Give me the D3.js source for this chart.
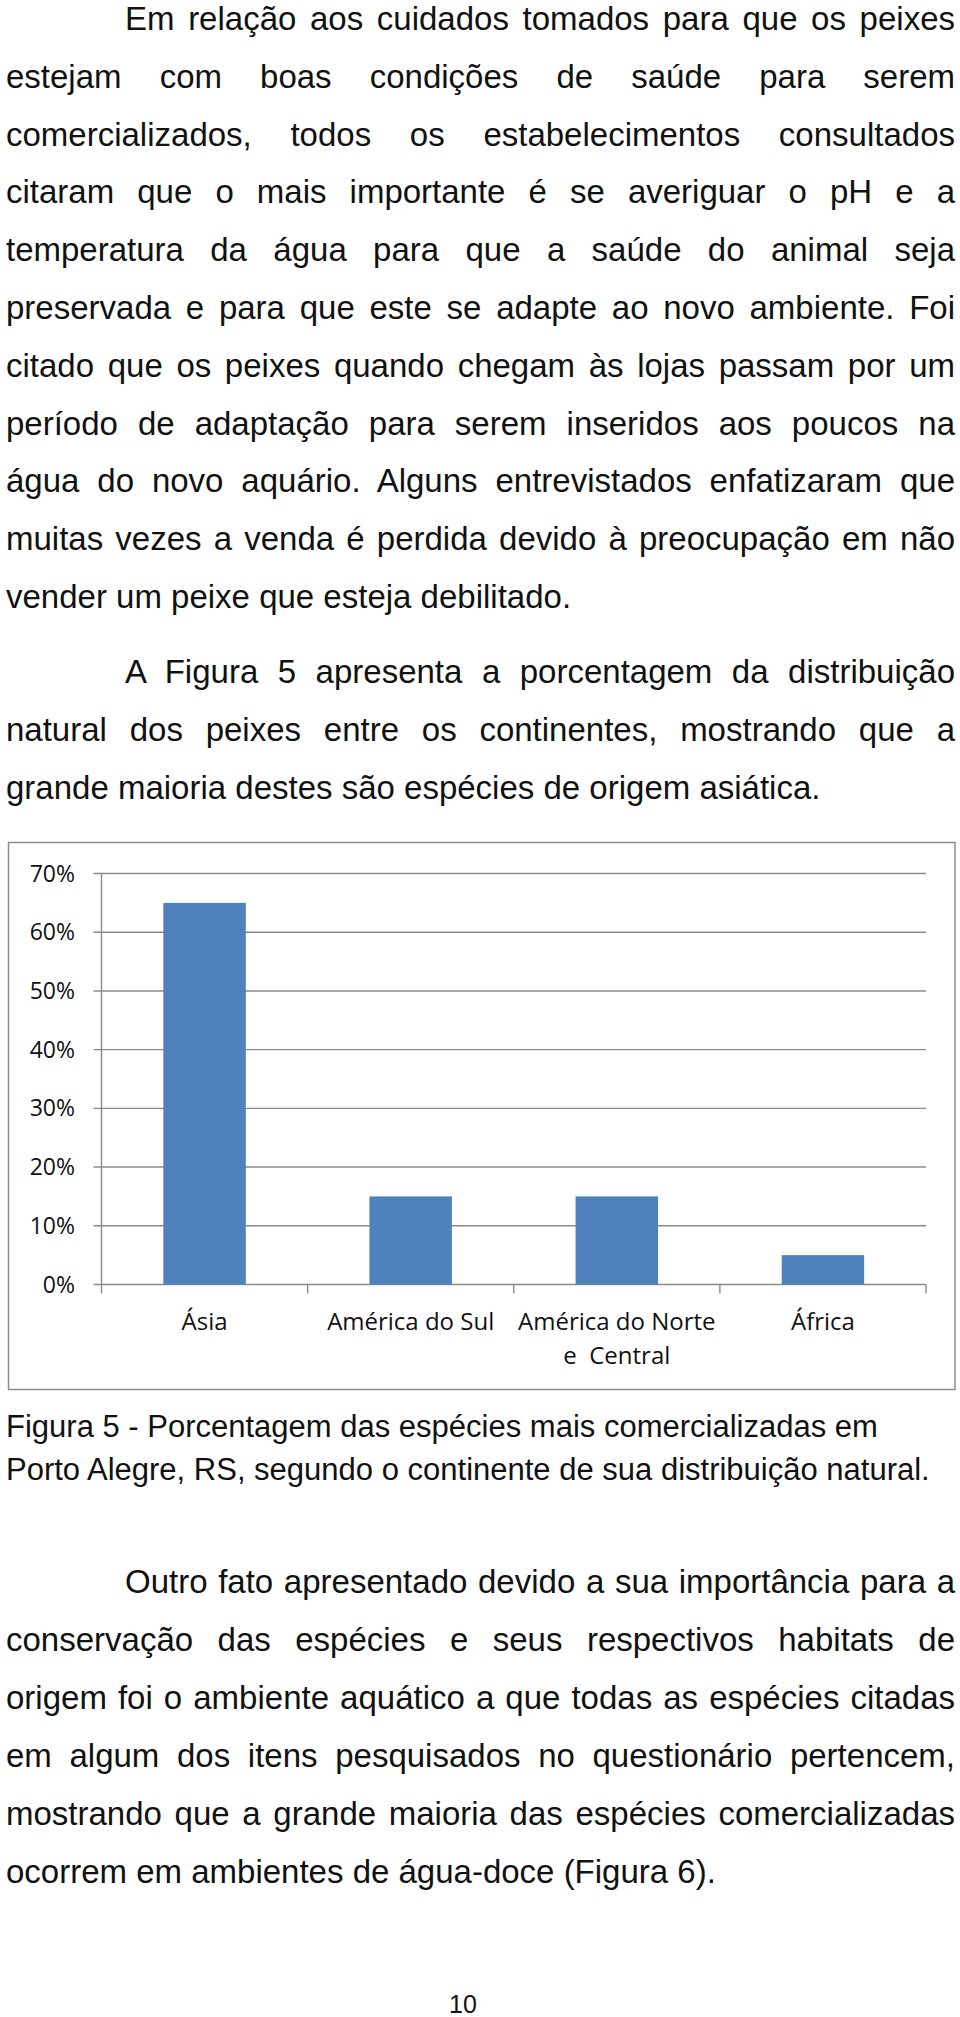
<!DOCTYPE html>
<html>
<head>
<meta charset="utf-8">
<script src="https://cdn.jsdelivr.net/npm/d3@7"></script>
<style>
  body { margin: 0; background: #fff; }
  svg { display: block; }
  .body-text { font-family: "Liberation Sans", Arial, sans-serif; fill: #111; }
  .chart-text { font-family: "Open Sans", sans-serif; fill: #111; }
</style>
</head>
<body>
<script>
// chart data
var categories = ["Ásia", "América do Sul", "América do Norte e  Central", "África"];
var percentages = [0.65, 0.15, 0.15, 0.05];
var yTickValues = [0, 0.1, 0.2, 0.3, 0.4, 0.5, 0.6, 0.7];

// page text, one entry per printed line
var para1 = [
  "Em relação aos cuidados tomados para que os peixes",
  "estejam com boas condições de saúde para serem",
  "comercializados, todos os estabelecimentos consultados",
  "citaram que o mais importante é se averiguar o pH e a",
  "temperatura da água para que a saúde do animal seja",
  "preservada e para que este se adapte ao novo ambiente. Foi",
  "citado que os peixes quando chegam às lojas passam por um",
  "período de adaptação para serem inseridos aos poucos na",
  "água do novo aquário. Alguns entrevistados enfatizaram que",
  "muitas vezes a venda é perdida devido à preocupação em não",
  "vender um peixe que esteja debilitado."
];
var para2 = [
  "A Figura 5 apresenta a porcentagem da distribuição",
  "natural dos peixes entre os continentes, mostrando que a",
  "grande maioria destes são espécies de origem asiática."
];
var captionLines = [
  "Figura 5 - Porcentagem das espécies mais comercializadas em",
  "Porto Alegre, RS, segundo o continente de sua distribuição natural."
];
var para3 = [
  "Outro fato apresentado devido a sua importância para a",
  "conservação das espécies e seus respectivos habitats de",
  "origem foi o ambiente aquático a que todas as espécies citadas",
  "em algum dos itens pesquisados no questionário pertencem,",
  "mostrando que a grande maioria das espécies comercializadas",
  "ocorrem em ambientes de água-doce (Figura 6)."
];
var pageNumber = "10";

var pageW = 960, pageH = 2017;
var textLeft = 6, textRight = 955, indent = 125;

var svg = d3.select("body").append("svg")
  .attr("width", pageW)
  .attr("height", pageH);

// draws a block of lines, justifying all but the last one
function drawParagraph(lines, firstBaseline, lineGap, fontSize, opts) {
  var g = svg.append("g").attr("class", "body-text");
  lines.forEach(function(line, i) {
    var x = (opts.indent && i === 0) ? indent : textLeft;
    var t = g.append("text")
      .attr("x", x)
      .attr("y", firstBaseline + i * lineGap)
      .attr("font-size", fontSize)
      .style("white-space", "pre")
      .text(line);
    if (opts.justify && i < lines.length - 1) {
      var target = textRight - x;
      var w = t.node().getComputedTextLength();
      var spaces = line.split(" ").length - 1;
      if (w > target) {
        t.attr("textLength", target).attr("lengthAdjust", "spacingAndGlyphs");
      } else if (spaces > 0) {
        t.style("word-spacing", ((target - w) / spaces) + "px");
      }
    }
  });
}

drawParagraph(para1, 30, 57.8, 33, {indent: true, justify: true});
drawParagraph(para2, 683, 58, 33, {indent: true, justify: true});
drawParagraph(captionLines, 1437, 43, 31, {indent: false, justify: false});
drawParagraph(para3, 1593, 58, 33, {indent: true, justify: true});

svg.append("text")
  .attr("class", "body-text")
  .attr("x", 463)
  .attr("y", 2013)
  .attr("text-anchor", "middle")
  .attr("font-size", 25)
  .text(pageNumber);

// ---- chart ----
var frame = {left: 8.5, top: 842.5, right: 955, bottom: 1389.5};
var plot = {left: 101.5, right: 926, top: 873.5, bottom: 1284.5};

svg.append("rect")
  .attr("x", frame.left)
  .attr("y", frame.top)
  .attr("width", frame.right - frame.left)
  .attr("height", frame.bottom - frame.top)
  .attr("fill", "#fff")
  .attr("stroke", "#8c8c8c")
  .attr("stroke-width", 1.5);

var x = d3.scaleBand()
  .domain(categories)
  .range([plot.left, plot.right])
  .padding(0);

var y = d3.scaleLinear()
  .domain([0, 0.7])
  .range([plot.bottom, plot.top]);

var chartGroup = svg.append("g");

// horizontal gridlines with outward ticks
chartGroup.append("g")
  .selectAll("line")
  .data(yTickValues)
  .enter()
  .append("line")
  .attr("x1", plot.left - 8)
  .attr("x2", plot.right)
  .attr("y1", d => y(d))
  .attr("y2", d => y(d))
  .attr("stroke", "#8a8a8a")
  .attr("stroke-width", 1.4);

// y axis line
chartGroup.append("line")
  .attr("x1", plot.left)
  .attr("x2", plot.left)
  .attr("y1", y(0.7))
  .attr("y2", y(0))
  .attr("stroke", "#8a8a8a")
  .attr("stroke-width", 1.4);

// x axis tick marks at the category boundaries
var boundaries = categories.map(d => x(d)).concat([x.range()[1]]);
chartGroup.append("g")
  .selectAll("line")
  .data(boundaries)
  .enter()
  .append("line")
  .attr("x1", d => d)
  .attr("x2", d => d)
  .attr("y1", y(0))
  .attr("y2", y(0) + 9)
  .attr("stroke", "#8a8a8a")
  .attr("stroke-width", 1.4);

// bars
var barW = x.bandwidth() * 0.4;
chartGroup.selectAll("rect.bar")
  .data(percentages)
  .enter()
  .append("rect")
  .attr("class", "bar")
  .attr("x", (d, i) => x(categories[i]) + x.bandwidth() / 2 - barW / 2)
  .attr("y", d => y(d))
  .attr("width", barW)
  .attr("height", d => y(0) - y(d))
  .attr("fill", "#4f81bd");

// y tick labels
chartGroup.append("g")
  .attr("class", "chart-text")
  .selectAll("text")
  .data(yTickValues)
  .enter()
  .append("text")
  .attr("x", 75)
  .attr("y", d => y(d) + 8)
  .attr("text-anchor", "end")
  .attr("font-size", 23)
  .text(d3.format(".0%"));

// x labels (wrapped like the original)
var xLabelLines = {
  "América do Norte e  Central": ["América do Norte", "e  Central"]
};
var xLabels = chartGroup.append("g").attr("class", "chart-text");
categories.forEach(function(c) {
  var lines = xLabelLines[c] || [c];
  var t = xLabels.append("text")
    .attr("text-anchor", "middle")
    .attr("font-size", 24)
    .style("white-space", "pre");
  lines.forEach(function(l, j) {
    t.append("tspan")
      .attr("x", x(c) + x.bandwidth() / 2)
      .attr("y", y(0) + 45 + j * 34)
      .text(l);
  });
});
</script>
</body>
</html>
